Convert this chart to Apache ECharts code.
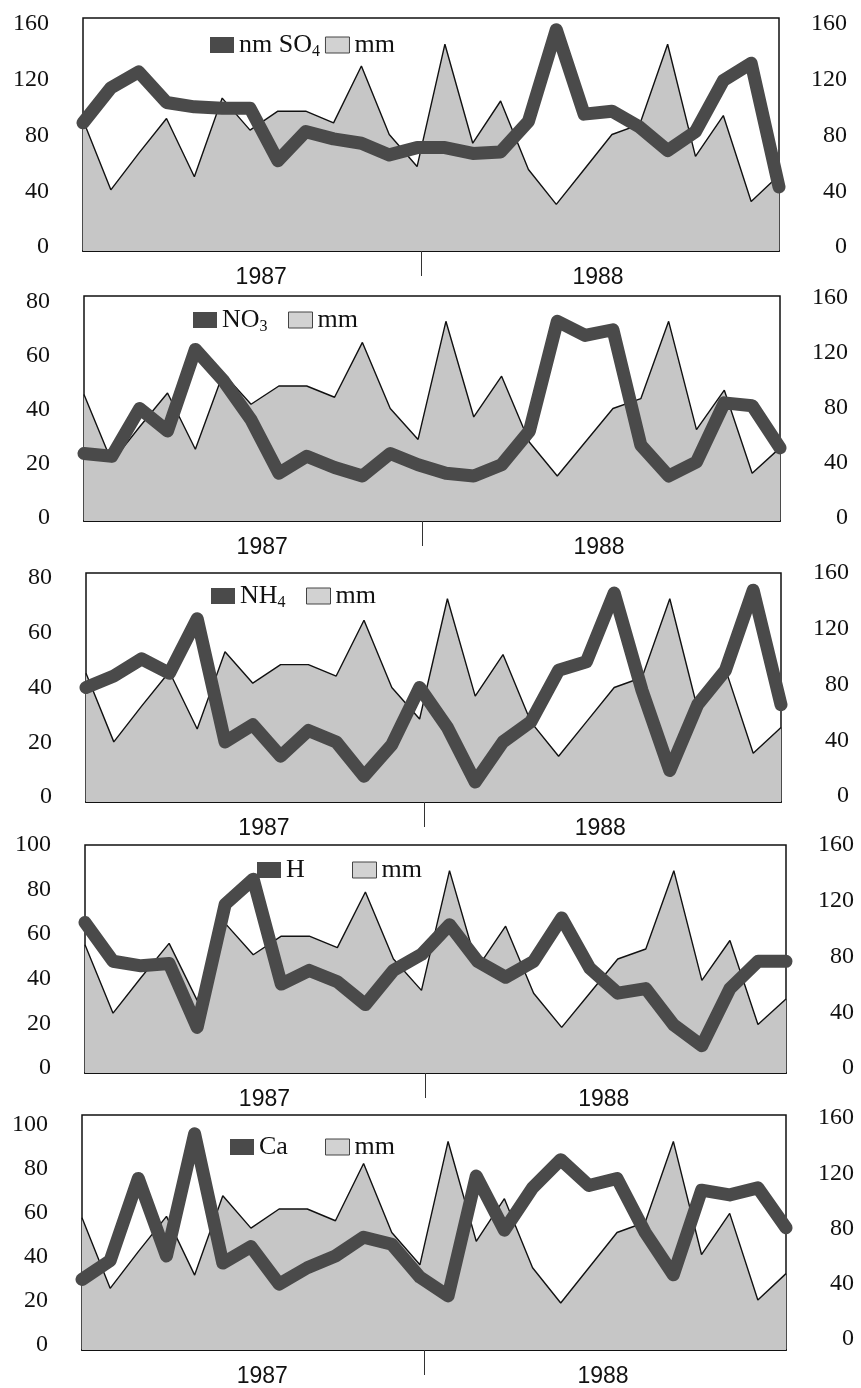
<!DOCTYPE html>
<html>
<head>
<meta charset="utf-8">
<script src="https://cdn.jsdelivr.net/npm/echarts@6/dist/echarts.min.js"></script>
<style>
  html, body { margin: 0; padding: 0; background: #fff; }
  #chart { width: 861px; height: 1388px; }
</style>
</head>
<body>
<div id="chart"></div>
<script>
// 26 collection periods over 1987–1988
const years = ['1987', '1988'];
const rainfall = [90, 42, 67, 91, 51, 105, 83, 96, 96, 88, 127, 80, 58, 142, 74, 103, 56, 32, 56, 80, 87, 142, 65, 93, 34, 52];
const nmSO4 = [88, 112, 123, 102, 99, 98, 98, 62, 82, 77, 74, 66, 71, 71, 67, 68, 89, 152, 94, 96, 85, 69, 82, 117, 129, 44];
const NO3 = [24, 23, 40, 32, 61, 50, 36, 17, 23, 19, 16, 24, 20, 17, 16, 20, 32, 71, 66, 68, 27, 16, 21, 42, 41, 26];
const NH4 = [40, 44, 50, 45, 64, 21, 27, 16, 25, 21, 9, 20, 40, 26, 7, 21, 28, 46, 49, 73, 39, 11, 34, 46, 74, 34];
const H = [66, 49, 47, 48, 20, 74, 85, 39, 45, 40, 30, 45, 52, 65, 49, 42, 49, 68, 46, 35, 37, 21, 12, 37, 49, 49];
const Ca = [30, 38, 73, 40, 92, 37, 44, 28, 35, 40, 48, 45, 31, 23, 74, 51, 69, 81, 70, 73, 50, 32, 68, 66, 69, 52];
const ionNames = ['nm SO4', 'NO3', 'NH4', 'H', 'Ca'];
const ionMax = [160, 80, 80, 100, 100];
const ionStep = [40, 20, 20, 20, 20];
const rainMax = 160;
const rainStep = 40;

// x axis: sample index; year break and year-label centres in index units
const yearBreak = 12.15;
const yearCentres = [6.4, 18.5];

const ionSeries = [nmSO4, NO3, NH4, H, Ca];

// panel frames, legend placement, and tick-label insets (px) for the
// left (lt/lb) and right (rt/rb) label columns
const frames = [
  { left: 83, top: 18,   width: 696, height: 233, legLeft: 210, legMid: 45,   legGap: 5, legWidth: null, lt: 6,  lb: 4, rt: 6, rb: 4 },
  { left: 84, top: 296,  width: 696, height: 225, legLeft: 193, legMid: 320,  legGap: 0, legWidth: 66,   lt: 6,  lb: 3, rt: 2, rb: 3 },
  { left: 86, top: 573,  width: 695, height: 229, legLeft: 211, legMid: 596,  legGap: 0, legWidth: 66,   lt: 5,  lb: 5, rt: 0, rb: 6 },
  { left: 85, top: 845,  width: 701, height: 228, legLeft: 257, legMid: 870,  legGap: 0, legWidth: 66,   lt: 0,  lb: 5, rt: 0, rb: 5 },
  { left: 82, top: 1115, width: 704, height: 238, legLeft: 230, legMid: 1147, legGap: 0, legWidth: 66,   lt: 10, lb: 5, rt: 3, rb: 11 }
];

const INK = '#111';
const DARK = '#4a4a4a';
const LIGHT = '#c6c6c6';
const serif = '"Liberation Serif", "Times New Roman", serif';
const sans = '"Liberation Sans", Arial, sans-serif';

function ticks(max, step) {
  const out = [];
  for (let v = 0; v <= max; v += step) out.push(v);
  return out;
}

// label-only axis whose 0..max span sits inside the frame by the given insets
function labelAxis(k, position, max, step, insetTop, insetBottom, h, labelOpts) {
  const upp = max / (h - insetTop - insetBottom);
  return {
    type: 'value', gridIndex: k, position,
    min: -insetBottom * upp, max: max + insetTop * upp,
    axisLine: { show: false }, axisTick: { show: false }, splitLine: { show: false },
    axisLabel: Object.assign({
      customValues: ticks(max, step),
      showMinLabel: true, showMaxLabel: true,
      fontFamily: serif, fontSize: 24, color: INK
    }, labelOpts)
  };
}

const grid = [], xAxis = [], yAxis = [], series = [], legend = [];

frames.forEach((f, k) => {
  grid.push({
    left: f.left, top: f.top, width: f.width, height: f.height,
    show: true, borderColor: INK, borderWidth: 1.5, backgroundColor: 'transparent'
  });
  xAxis.push({
    type: 'value', gridIndex: k, min: 0, max: rainfall.length - 1,
    splitLine: { show: false },
    axisLine: { show: true, lineStyle: { color: INK, width: 2 } },
    axisTick: { show: true, customValues: [yearBreak], length: 25, lineStyle: { color: '#333', width: 1 } },
    axisLabel: {
      customValues: yearCentres,
      formatter: v => (v < yearBreak ? years[0] : years[1]),
      fontFamily: sans, fontSize: 23, color: INK, margin: 15
    }
  });
  const base = 4 * k;
  // data scales (hidden)
  yAxis.push({ type: 'value', gridIndex: k, min: 0, max: ionMax[k], interval: ionStep[k], show: false, splitLine: { show: false } });
  yAxis.push({ type: 'value', gridIndex: k, min: 0, max: rainMax, interval: rainStep, show: false, splitLine: { show: false } });
  // visible tick-label columns
  yAxis.push(labelAxis(k, 'left', ionMax[k], ionStep[k], f.lt, f.lb, f.height, { margin: 34 }));
  yAxis.push(labelAxis(k, 'right', rainMax, rainStep, f.rt, f.rb, f.height, { margin: 68, align: 'right' }));

  series.push({
    type: 'line', name: 'mm', xAxisIndex: k, yAxisIndex: base + 1,
    data: rainfall.map((v, i) => [i, v]),
    symbol: 'none', z: 2,
    lineStyle: { color: INK, width: 1.4 },
    itemStyle: { color: LIGHT },
    areaStyle: { color: LIGHT, opacity: 1 }
  });
  series.push({
    type: 'line', name: ionNames[k], xAxisIndex: k, yAxisIndex: base,
    data: ionSeries[k].map((v, i) => [i, v]),
    symbol: 'none', z: 3,
    lineStyle: { color: DARK, width: 13, cap: 'round', join: 'round' },
    itemStyle: { color: DARK }
  });
  const textStyle = {
    fontFamily: serif, fontSize: 26, color: INK, lineHeight: 30,
    rich: { sub: { fontFamily: serif, fontSize: 16, lineHeight: 16, verticalAlign: 'bottom', color: INK } }
  };
  if (f.legWidth) textStyle.width = f.legWidth;
  legend.push({
    left: f.legLeft,
    top: f.legMid - 15,
    orient: 'horizontal', padding: 0, itemGap: f.legGap,
    itemWidth: 24, itemHeight: 16, icon: 'rect', selectedMode: false,
    data: [
      { name: ionNames[k], itemStyle: { color: DARK, borderWidth: 0 } },
      { name: 'mm', itemStyle: { color: '#d2d2d2', borderColor: '#444', borderWidth: 1 } }
    ],
    formatter: name => name.replace(/(\D)(\d)$/, '$1{sub|$2}'),
    textStyle
  });
});

const chart = echarts.init(document.getElementById('chart'), null, { renderer: 'canvas' });
chart.setOption({
  backgroundColor: '#fff',
  animation: false,
  grid, xAxis, yAxis, series, legend
});
</script>
</body>
</html>
